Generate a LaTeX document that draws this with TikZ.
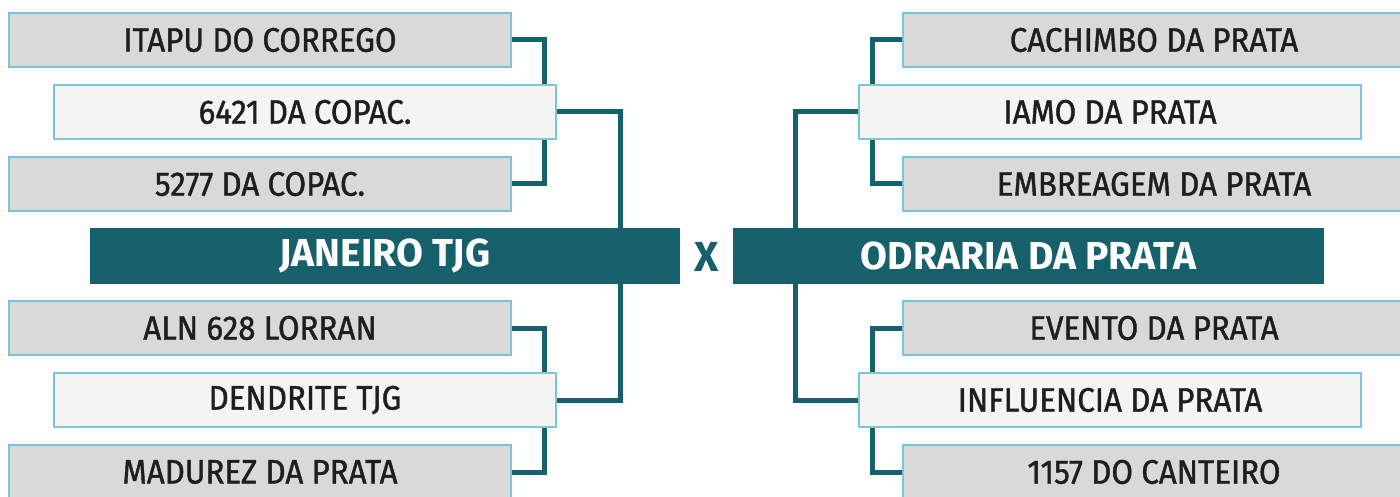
\documentclass[tikz,border=0pt]{standalone}
\usepackage{fontspec}
\usepackage{xcolor}
\usepackage{tikz}
\usetikzlibrary{positioning,backgrounds}
\newfontfamily\teamfont{Fira Sans}[FakeBold=1.2, FakeStretch=0.92]
\newfontfamily\headfont{Fira Sans}
\definecolor{teal}{HTML}{15606B}
\definecolor{edge}{HTML}{78C6D6}
\definecolor{grayfill}{HTML}{D9D9D9}
\definecolor{lightfill}{HTML}{F4F4F4}
\definecolor{ink}{HTML}{1E1E1E}
\tikzset{
  team/.style={draw=edge, line width=2pt, minimum height=54pt, minimum width=502pt, inner sep=0pt,
    text=ink, font=\teamfont\fontsize{34}{34}\selectfont},
  gbox/.style={team, fill=grayfill},
  lbox/.style={team, fill=lightfill},
  head/.style={fill=teal, text=white, minimum height=56pt, inner sep=0pt,
    font=\headfont\bfseries\fontsize{39}{39}\selectfont},
  link/.style={draw=teal, line width=5pt},
}

\begin{document}
\begin{tikzpicture}[x=1pt, y=-1pt]
\useasboundingbox (0,0) rectangle (1400,497);
% left bracket
\node[gbox] (itapu) at (260,40) {ITAPU DO CORREGO};
\node[lbox] (c6421) at (305,112) {6421 DA COPAC.};
\node[gbox] (c5277) at (260,184) {5277 DA COPAC.};
\node[gbox] (aln) at (260,328) {ALN 628 LORRAN};
\node[lbox] (dendrite) at (305,400) {DENDRITE TJG};
\node[gbox] (madurez) at (260,472) {MADUREZ DA PRATA};
% final
\node[head, minimum width=590pt] (janeiro) at (385,256) {JANEIRO TJG};
\node[text=teal, font=\headfont\bfseries\fontsize{42}{42}\selectfont] (versus) at (707,257) {X};
\node[head, minimum width=591pt] (odraria) at (1028.5,256) {ODRARIA DA PRATA};
% right bracket
\node[gbox] (cachimbo) at (1154,40) {CACHIMBO DA PRATA};
\node[lbox] (iamo) at (1110,112) {IAMO DA PRATA};
\node[gbox] (embreagem) at (1154,184) {EMBREAGEM DA PRATA};
\node[gbox] (evento) at (1154,328) {EVENTO DA PRATA};
\node[lbox] (influencia) at (1110,400) {INFLUENCIA DA PRATA};
\node[gbox] (c1157) at (1154,472) {1157 DO CANTEIRO};
\begin{scope}[on background layer]
\draw[link] (itapu.east) -- ++(32,0) |- (c5277.east);
\draw[link] (aln.east) -- ++(32,0) |- (madurez.east);
\draw[link] (c6421.east) -| ([xshift=235pt]janeiro.north);
\draw[link] (dendrite.east) -| ([xshift=235pt]janeiro.south);
\draw[link] (cachimbo.west) -- ++(-30,0) |- (embreagem.west);
\draw[link] (evento.west) -- ++(-30,0) |- (c1157.west);
\draw[link] (iamo.west) -| ([xshift=-233.5pt]odraria.north);
\draw[link] (influencia.west) -| ([xshift=-233.5pt]odraria.south);
\end{scope}
\end{tikzpicture}
\end{document}
